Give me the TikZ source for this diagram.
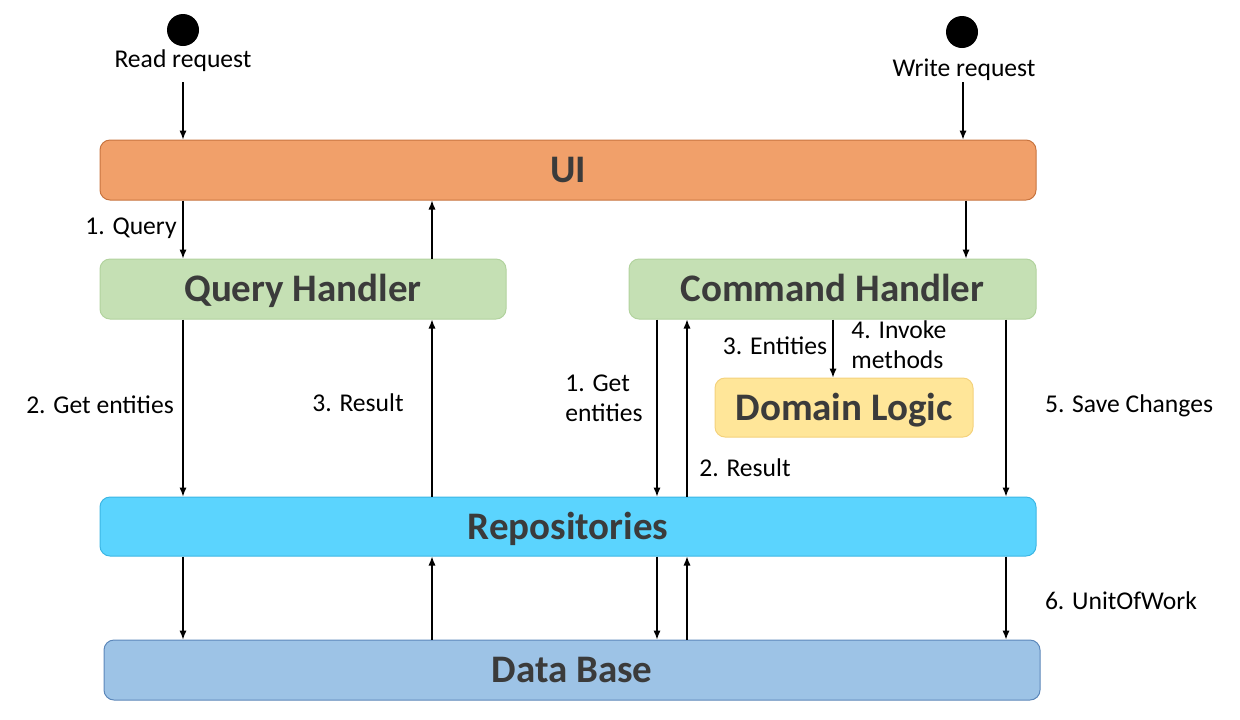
\documentclass[tikz,border=0pt]{standalone}
\usepackage{fontspec}
\setmainfont{Carlito}
\usetikzlibrary{arrows.meta}

\definecolor{uiFill}{HTML}{F1A06A}
\definecolor{uiLine}{HTML}{C8743F}
\definecolor{hdFill}{HTML}{C5E0B4}
\definecolor{hdLine}{HTML}{B2D39E}
\definecolor{dlFill}{HTML}{FFE699}
\definecolor{dlLine}{HTML}{F4D27C}
\definecolor{rpFill}{HTML}{5BD4FE}
\definecolor{rpLine}{HTML}{3CB6E4}
\definecolor{dbFill}{HTML}{9DC3E6}
\definecolor{dbLine}{HTML}{5C87BA}
\definecolor{titleGrey}{HTML}{3B3B3B}

\begin{document}
\begin{tikzpicture}[x=0.5pt, y=-0.5pt,
        layer/.style={rounded corners=5pt, line width=0.5pt, inner sep=0pt,
            text height=16.5pt, text depth=4pt,
            text=titleGrey, font=\fontsize{19.5}{22}\selectfont\bfseries},
        lbl/.style={inner sep=0pt, font=\fontsize{12.8}{15}\selectfont},
        arr/.style={line width=0.6pt, -{Latex[length=4.5pt, width=3.6pt]}}]
        \useasboundingbox (0,0) rectangle (1240,719);

        % requests
        \fill (183,30) circle (8pt);
        \fill (962,32) circle (8pt);
        \node [lbl] (readlbl)  at (183,61) {Read request};
        \node [lbl] (writelbl) at (964,70) {Write request};

        % layers
        \node [layer, fill=uiFill, draw=uiLine, minimum width=468pt, minimum height=30pt] (ui) at (568,170) {UI};
        \node [layer, fill=hdFill, draw=hdLine, minimum width=203pt, minimum height=30pt] (qh) at (303,289) {Query Handler};
        \node [layer, fill=hdFill, draw=hdLine, minimum width=203.5pt, minimum height=30pt] (ch) at (832.5,289) {Command Handler};
        \node [layer, fill=dlFill, draw=dlLine, minimum width=129pt, minimum height=29.5pt] (dl) at (844,407.5) {Domain Logic};
        \node [layer, fill=rpFill, draw=rpLine, minimum width=468pt, minimum height=29.5pt] (repo) at (568,526.5) {Repositories};
        \node [layer, fill=dbFill, draw=dbLine, minimum width=468pt, minimum height=30pt] (db) at (572,670) {Data Base};

        % columns
        \coordinate (c1) at (183,0);
        \coordinate (c2) at (432,0);
        \coordinate (c3) at (657,0);
        \coordinate (c4) at (687,0);
        \coordinate (c5) at (833,0);
        \coordinate (c6) at (1006,0);
        \coordinate (c8) at (966,0);
        \coordinate (rq) at (183,82);
        \coordinate (wq) at (963,82);

        \draw [arr] (rq) -- (ui.north -| rq);
        \draw [arr] (wq) -- (ui.north -| wq);

        \draw [arr] (ui.south -| c1) -- (qh.north -| c1);
        \draw [arr] (qh.north -| c2) -- (ui.south -| c2);
        \draw [arr] (ui.south -| c8) -- (ch.north -| c8);

        \draw [arr] (qh.south -| c1) -- (repo.north -| c1);
        \draw [arr] (repo.north -| c2) -- (qh.south -| c2);
        \draw [arr] (ch.south -| c3) -- (repo.north -| c3);
        \draw [arr] (repo.north -| c4) -- (ch.south -| c4);
        \draw [arr] (ch.south -| c5) -- (dl.north -| c5);
        \draw [arr] (ch.south -| c6) -- (repo.north -| c6);

        \draw [arr] (repo.south -| c1) -- (db.north -| c1);
        \draw [arr] (db.north -| c2) -- (repo.south -| c2);
        \draw [arr] (repo.south -| c3) -- (db.north -| c3);
        \draw [arr] (db.north -| c4) -- (repo.south -| c4);
        \draw [arr] (repo.south -| c6) -- (db.north -| c6);

        % labels
        \node [lbl, left]  at (177,228) {1. Query};
        \node [lbl]        at (100,405) {2. Get entities};
        \node [lbl]        at (358,403) {3. Result};
        \node [lbl, right, align=left] at (565,398) {1. Get\\entities};
        \node [lbl]        at (745,468) {2. Result};
        \node [lbl]        at (775,346) {3. Entities};
        \node [lbl, right, align=left] at (851,345) {4. Invoke\\methods};
        \node [lbl]        at (1129,406) {5. Save Changes};
        \node [lbl]        at (1121,601) {6. UnitOfWork};
      \end{tikzpicture}
\end{document}
